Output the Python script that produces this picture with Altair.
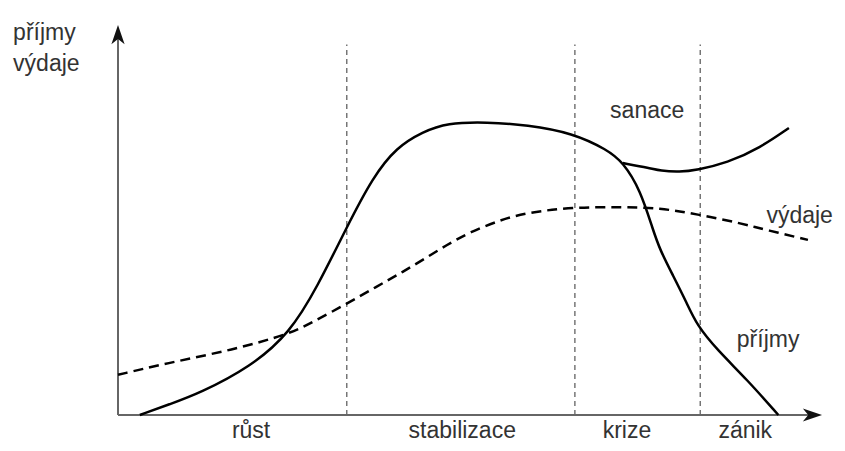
import altair as alt
import pandas as pd

# příjmy (income) curve
inc_x = [3.1, 7.4, 11.6, 18.8, 24.4, 28.3, 32.5, 36.2, 39.6, 43.3, 46.7, 52.4, 58.1, 64.6, 69.5, 71.7,
         74.2, 76.0, 77.0, 78.8, 80.8, 82.2, 85.1, 89.4, 93.8]
inc_y = [0.0, 2.8, 5.6, 12.3, 21.0, 32.8, 48.2, 61.0, 68.7, 72.6, 74.9, 75.1, 74.4, 72.3, 68.0, 64.9,
         57.7, 47.4, 42.3, 35.9, 28.7, 23.1, 16.7, 9.0, 0.0]

# sanace (recovery) branch
san_x = [71.7, 75.6, 77.0, 79.8, 82.2, 86.5, 91.2, 95.3]
san_y = [64.6, 63.3, 62.6, 62.3, 62.8, 64.6, 68.5, 73.6]

# výdaje (expenses) curve
exp_x = [0.0, 7.0, 16.3, 24.4, 27.7, 32.5, 36.8, 40.1, 43.3, 46.7, 50.0, 54.3, 58.1, 64.6, 71.3, 77.0,
         82.2, 88.4, 92.2, 98.0]
exp_y = [10.3, 13.3, 16.7, 20.8, 23.9, 28.5, 33.0, 36.3, 39.8, 43.6, 46.9, 50.0, 51.9, 53.3, 53.3, 53.1,
         51.5, 49.2, 47.4, 44.9]

# phase boundaries and labels
phase_bounds = [32.5, 64.9, 82.7]
phase_names = ["růst", "stabilizace", "krize", "zánik"]
phase_centers = [18.9, 48.9, 72.3, 89.1]

FONT = "Liberation Sans"
FS = 23
TXT = "#333333"

xs = alt.Scale(domain=[-15.625, 102.13], nice=False, zero=False)
ys = alt.Scale(domain=[-7.18, 104.359], nice=False, zero=False)

def X(f="x"):
    return alt.X(f"{f}:Q", scale=xs, axis=None)

def Y(f="y"):
    return alt.Y(f"{f}:Q", scale=ys, axis=None)

inc_df = pd.DataFrame({"x": inc_x, "y": inc_y})
san_df = pd.DataFrame({"x": san_x, "y": san_y})
exp_df = pd.DataFrame({"x": exp_x, "y": exp_y})

inc = alt.Chart(inc_df).mark_line(color="black", strokeWidth=2.5, interpolate="basis").encode(x=X(), y=Y())
san = alt.Chart(san_df).mark_line(color="black", strokeWidth=2.5, interpolate="basis").encode(x=X(), y=Y())
exp = alt.Chart(exp_df).mark_line(color="black", strokeWidth=2.5, strokeDash=[10, 6],
                                  interpolate="basis").encode(x=X(), y=Y())

vdf = pd.DataFrame({"x": phase_bounds, "y": [0] * 3, "y2": [95] * 3})
vlines = alt.Chart(vdf).mark_rule(color="#555555", strokeWidth=1.2, strokeDash=[5, 4]).encode(
    x=X(), y=Y(), y2="y2:Q")

# axes
axdf = pd.DataFrame({"x": [0, 0], "y": [0, 0], "x2": [0, 98.3], "y2": [96.9, 0]})
axes = alt.Chart(axdf).mark_rule(color="#666666", strokeWidth=2).encode(
    x=X(), y=Y(), x2="x2:Q", y2="y2:Q")

up = alt.Chart(pd.DataFrame({"x": [0], "y": [96.9]})).mark_point(
    shape="M0,-1L0.55,0.6L0,0.15L-0.55,0.6Z", filled=True, color="#111111", size=576, opacity=1
).encode(x=X(), y=Y())
right = alt.Chart(pd.DataFrame({"x": [98.3], "y": [0]})).mark_point(
    shape="M1,0L-0.6,0.55L-0.15,0L-0.6,-0.55Z", filled=True, color="#111111", size=576, opacity=1
).encode(x=X(), y=Y())

phase_df = pd.DataFrame({"x": phase_centers, "y": [-5.9] * 4, "t": phase_names})
phase_txt = alt.Chart(phase_df).mark_text(font=FONT, fontSize=FS, color=TXT, align="center",
                                          baseline="alphabetic").encode(x=X(), y=Y(), text="t:N")

lab_df = pd.DataFrame({
    "x": [-14.9, -14.9, 69.9, 92.1, 87.9],
    "y": [96.2, 88.2, 76.2, 49.2, 17.4],
    "t": ["příjmy", "výdaje", "sanace", "výdaje", "příjmy"],
})
lab_txt = alt.Chart(lab_df).mark_text(font=FONT, fontSize=FS, color=TXT, align="left",
                                      baseline="alphabetic").encode(x=X(), y=Y(), text="t:N")

chart = alt.layer(vlines, axes, exp, inc, san, up, right, phase_txt, lab_txt).properties(
    width=829, height=435, padding=0,
    autosize=alt.AutoSizeParams(type="none"),
    background="white",
).configure_view(stroke=None)

chart.save("out.html", embed_options={"renderer": "svg", "actions": False})
